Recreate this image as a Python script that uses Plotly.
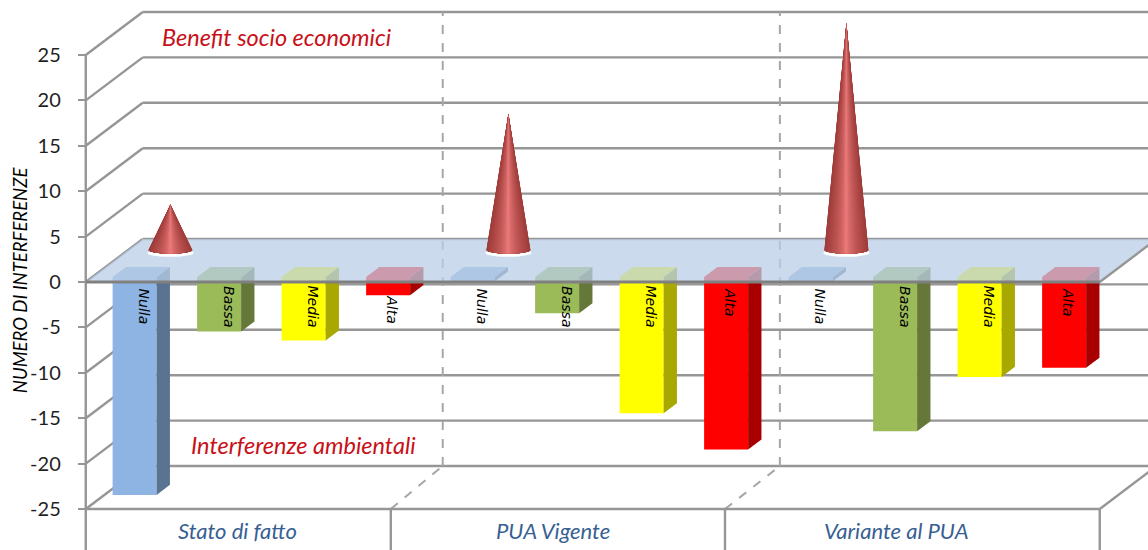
import math
import plotly.graph_objects as go

groups = ["Stato di fatto", "PUA Vigente", "Variante al PUA"]
levels = ["Nulla", "Bassa", "Media", "Alta"]
interferenze = [-24, -6, -7, -2, -0.5, -4, -15, -19, -0.5, -17, -11, -10]
benefit = [5, 15, 25]
benefit_cat = [0, 4, 8]
y_ticks = [25, 20, 15, 10, 5, 0, -5, -10, -15, -20, -25]
group_edges = [-0.5, 3.11, 7.065, 11.5]
back_edges = [3.05, 7.04]
group_label_x = [1.3, 5.03, 9.09]
bar_colors = ["#8DB4E2", "#9BBB59", "#FFFF00", "#FF0000"]
side_colors = ["#5B7393", "#66773A", "#A8A800", "#A80000"]

W, H = 1148, 550
CAT_PX, VAL_PX = 84.5, 9.08
X0_PX, Y0_PX = 85.75, 282.0
xr = [-0.5 - X0_PX / CAT_PX, -0.5 + (W - X0_PX) / CAT_PX]
yr = [(Y0_PX - H) / VAL_PX, Y0_PX / VAL_PX]
DX, DY = 57 / CAT_PX, 43 / VAL_PX


def proj(x, y, d):
    return x + DX * d, y + DY * d


GRID = "#969696"
fig = go.Figure()


def seg(x1, y1, x2, y2, color=GRID, width=2.4, dash="solid", layer="below"):
    fig.add_shape(type="line", xref="x", yref="y", x0=x1, y0=y1, x1=x2, y1=y2,
                  line=dict(color=color, width=width, dash=dash), layer=layer)


# walls
for v in y_ticks:
    x0, y0 = proj(-0.5, v, 1)
    x1, y1 = proj(11.5, v, 1)
    seg(x0, y0, x1 + 1, y1)
    seg(-0.5, v, x0, y0)
for e, be in zip(group_edges[1:3], back_edges):
    xb, yb = proj(be, -25, 1)
    seg(e, -25, xb, yb, "#A6A6A6", 2, "dash")
    xt, yt = proj(be, 25, 1)
    seg(xb, yb, xt, yt, "#A6A6A6", 2, "dash")
xb, yb = proj(11.5, -25, 1)
seg(11.5, -25, xb, yb)
seg(-0.5, -25, 11.5, -25)
seg(-0.5, yr[0], -0.5, 25)
for e in group_edges[1:]:
    seg(e, yr[0], e, -25)

# bars
D1, D2 = 0.116, 0.35
BW = 44 / CAT_PX
xc = [i + DX * D1 for i in range(12)]
fig.add_trace(go.Bar(
    x=xc, y=interferenze, base=DY * D1, width=BW,
    marker=dict(color=[bar_colors[i % 4] for i in range(12)], line=dict(width=0)),
    hoverinfo="skip", showlegend=False))


def poly(pts, color):
    fig.add_trace(go.Scatter(
        x=[p[0] for p in pts], y=[p[1] for p in pts], mode="lines", fill="toself",
        fillcolor=color, line=dict(color=color, width=0),
        hoverinfo="skip", showlegend=False))


for i, v in enumerate(interferenze):
    r = i + BW / 2
    l = i - BW / 2
    side = [proj(r, 0, D1), proj(r, 0, D2), proj(r, v, D2), proj(r, v, D1)]
    top = [proj(l, 0, D1), proj(r, 0, D1), proj(r, 0, D2), proj(l, 0, D2)]
    poly(side + side[:1], side_colors[i % 4])
    poly(top + top[:1], bar_colors[i % 4])

# floor plane at zero
plane = [proj(-0.5, 0, 0), proj(-0.5, 0, 1), proj(11.5, 0, 1), proj(11.5, 0, 0)]
poly(plane + plane[:1], "rgba(185,205,230,0.75)")
xr_e, yr_e = proj(11.5, 0, 1)
seg(11.5, 0, xr_e, yr_e, layer="above")
seg(-0.5, 0, 11.5, 0, "#808080", 3.2, layer="above")

# cones: nested shells, darkest outside, lightest at the axis
R = 22 / CAT_PX
Dc = 0.744
B = 3.6 / VAL_PX
N = 26
halo_x, halo_y = [], []
for c in benefit_cat:
    cx, cy = proj(c, 0, Dc)
    for k in range(41):
        a = 2 * math.pi * k / 40
        halo_x.append(cx + R * 1.06 * math.cos(a))
        halo_y.append(cy - 0.32 + B * 1.1 * math.sin(a))
    halo_x.append(None)
    halo_y.append(None)
fig.add_trace(go.Scatter(x=halo_x, y=halo_y, mode="lines", fill="toself", fillcolor="white",
                         line=dict(width=0, color="white"), hoverinfo="skip", showlegend=False))
DARK = (158, 60, 58)
LIGHT = (255, 138, 138)
for k in range(N):
    a0 = (math.pi / 2) * k / N
    t = math.cos(a0) ** 0.55
    col = tuple(round(LIGHT[j] + (DARK[j] - LIGHT[j]) * t) for j in range(3))
    css = "rgb(%d,%d,%d)" % col
    xs, ys = [], []
    for c, v in zip(benefit_cat, benefit):
        cx, cy = proj(c, 0, Dc)
        xs.append(cx)
        ys.append(cy + v)
        for m in range(13):
            a = a0 + (math.pi - 2 * a0) * m / 12
            xs.append(cx + R * math.cos(a))
            ys.append(cy - B * math.sin(a))
        xs += [cx, None]
        ys += [cy + v, None]
    fig.add_trace(go.Scatter(x=xs, y=ys, mode="lines", fill="toself", fillcolor=css,
                             line=dict(color=css, width=0), hoverinfo="skip", showlegend=False))

# annotations
label_dx = [0.2, 0.2, 0.19, 0.125]
for i in range(12):
    yl = -3.0 if i == 3 else (-2.2 if i % 4 == 3 else -2.7)
    fig.add_annotation(x=i + label_dx[i % 4], y=yl, text="<i>%s</i>" % levels[i % 4],
                       textangle=90, showarrow=False,
                       font=dict(family="DejaVu Sans", size=14, color="black"))
for g, xl in zip(groups, group_label_x):
    fig.add_annotation(x=xl, y=-27.4, text="<i>%s</i>" % g, showarrow=False,
                       font=dict(family="Lato", size=22, color="#376092"))
fig.add_annotation(x=1.76, y=27.0, text="<i>Benefit socio economici</i>", showarrow=False,
                   font=dict(family="Lato", size=23.5, color="#C81018"))
fig.add_annotation(x=2.08, y=-17.95, text="<i>Interferenze ambientali</i>", showarrow=False,
                   font=dict(family="Lato", size=23.5, color="#C81018"))
fig.add_annotation(xref="paper", yref="y", x=20 / W, y=0.2, xanchor="center", yanchor="middle",
                   text="<i>NUMERO DI INTERFERENZE</i>", textangle=-90, showarrow=False,
                   font=dict(family="Lato", size=18.5, color="black"))

fig.update_layout(
    width=W, height=H, margin=dict(l=0, r=0, t=0, b=0), autosize=False,
    paper_bgcolor="white", plot_bgcolor="white", showlegend=False, barmode="overlay",
    xaxis=dict(range=xr, visible=False, domain=[0, 1]),
    yaxis=dict(range=yr, domain=[0, 1], anchor="free", position=X0_PX / W,
               tickmode="array", tickvals=y_ticks, ticktext=[str(v) for v in y_ticks],
               showgrid=False, zeroline=False, showline=False,
               ticks="outside", ticklen=8, tickwidth=2, tickcolor=GRID,
               ticklabelstandoff=13,
               tickfont=dict(family="Lato", size=20, color="#1F1F1F")),
)
fig.write_html("out.html", config={"displayModeBar": False},
               post_script="document.body.style.margin='0';")
